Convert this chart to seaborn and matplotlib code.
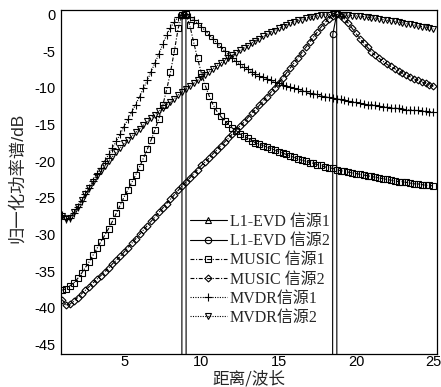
import numpy as np
import matplotlib
matplotlib.use("Agg")
import matplotlib.pyplot as plt
from matplotlib.font_manager import FontProperties
import seaborn as sns

# Range grid in wavelengths (0.25 step)
distance = np.linspace(1, 25, 97)

# Normalised spectra in dB, one value per grid point
music_src1 = [
    -37.6, -37.4, -37.0, -36.6, -36.0, -35.3, -34.5, -33.7,
    -32.8, -31.9, -31.0, -30.1, -29.2, -28.2, -27.1, -26.0,
    -24.9, -23.9, -22.9, -21.9, -20.8, -19.6, -18.4, -17.1,
    -15.7, -14.2, -12.4, -10.3, -7.9, -5.0, -1.9, -0.1,
    0.0, -1.5, -3.8, -6.0, -8.0, -9.7, -11.1, -12.3,
    -13.2, -13.9, -14.5, -15.0, -15.5, -15.9, -16.3, -16.6,
    -16.9, -17.2, -17.5, -17.7, -17.9, -18.1, -18.3, -18.5,
    -18.7, -18.9, -19.1, -19.3, -19.5, -19.7, -19.9, -20.0,
    -20.2, -20.3, -20.5, -20.6, -20.8, -20.9, -21.0, -21.2,
    -21.3, -21.4, -21.5, -21.6, -21.7, -21.8, -21.9, -22.0,
    -22.1, -22.2, -22.3, -22.4, -22.5, -22.6, -22.7, -22.8,
    -22.8, -22.9, -23.0, -23.1, -23.1, -23.2, -23.3, -23.3,
    -23.4,
]
music_src2 = [
    -38.9, -39.6, -39.5, -39.1, -38.6, -38.1, -37.6, -37.1,
    -36.6, -36.1, -35.6, -35.1, -34.6, -34.0, -33.5, -33.0,
    -32.4, -31.8, -31.2, -30.6, -30.0, -29.4, -28.8, -28.2,
    -27.6, -27.0, -26.4, -25.8, -25.2, -24.6, -24.0, -23.4,
    -22.8, -22.3, -21.7, -21.2, -20.6, -20.1, -19.6, -19.0,
    -18.5, -17.9, -17.4, -16.9, -16.3, -15.8, -15.2, -14.7,
    -14.1, -13.5, -13.0, -12.4, -11.8, -11.2, -10.6, -10.0,
    -9.3, -8.7, -8.0, -7.3, -6.6, -5.9, -5.2, -4.5,
    -3.8, -3.1, -2.4, -1.7, -1.1, -0.6, -0.2, 0.0,
    -0.2, -0.6, -1.2, -1.9, -2.6, -3.3, -3.9, -4.5,
    -5.1, -5.6, -6.0, -6.4, -6.8, -7.1, -7.4, -7.7,
    -8.0, -8.3, -8.5, -8.8, -9.0, -9.2, -9.4, -9.6,
    -9.8,
]
mvdr_src1 = [
    -27.4, -27.9, -27.7, -27.1, -26.3, -25.4, -24.5, -23.6,
    -22.7, -21.8, -20.9, -20.0, -19.1, -18.2, -17.3, -16.3,
    -15.3, -14.3, -13.3, -12.3, -11.2, -10.1, -9.0, -7.8,
    -6.6, -5.4, -4.1, -2.8, -1.8, -1.0, -0.4, -0.05,
    0.0, -0.3, -0.7, -1.2, -1.7, -2.2, -2.8, -3.3,
    -3.9, -4.4, -5.0, -5.5, -6.0, -6.4, -6.8, -7.2,
    -7.5, -7.8, -8.1, -8.4, -8.6, -8.8, -9.0, -9.2,
    -9.4, -9.6, -9.8, -9.9, -10.1, -10.2, -10.4, -10.5,
    -10.7, -10.8, -10.9, -11.1, -11.2, -11.3, -11.4, -11.5,
    -11.6, -11.7, -11.8, -11.9, -12.0, -12.1, -12.2, -12.3,
    -12.3, -12.4, -12.5, -12.6, -12.6, -12.7, -12.8, -12.8,
    -12.9, -13.0, -13.0, -13.1, -13.1, -13.2, -13.2, -13.3,
    -13.3,
]
mvdr_src2 = [
    -27.5, -27.9, -27.7, -27.0, -26.2, -25.3, -24.5, -23.7,
    -22.9, -22.1, -21.4, -20.7, -20.0, -19.4, -18.8, -18.2,
    -17.6, -17.1, -16.6, -16.1, -15.6, -15.1, -14.6, -14.1,
    -13.7, -13.2, -12.8, -12.3, -11.9, -11.5, -11.0, -10.6,
    -10.2, -9.8, -9.4, -9.0, -8.6, -8.2, -7.8, -7.4,
    -7.0, -6.6, -6.3, -5.9, -5.6, -5.2, -4.9, -4.6,
    -4.3, -3.9, -3.6, -3.3, -3.0, -2.7, -2.4, -2.2,
    -1.9, -1.7, -1.4, -1.2, -1.0, -0.8, -0.7, -0.5,
    -0.4, -0.3, -0.2, -0.1, -0.05, -0.02, 0.0, 0.0,
    -0.02, -0.05, -0.1, -0.15, -0.2, -0.25, -0.3, -0.4,
    -0.45, -0.5, -0.6, -0.7, -0.8, -0.85, -0.95, -1.05,
    -1.15, -1.25, -1.35, -1.45, -1.55, -1.65, -1.75, -1.85,
    -1.95,
]

# L1-EVD spectra: only the bins around each source; everything else sits far below the axis floor
l1_src1_x = [8.5, 8.75, 9.0, 9.25]
l1_src1_db = [-1000.0, 0.0, -0.1, -1000.0]
l1_src2_x = [18.25, 18.5, 18.75, 19.0]
l1_src2_db = [-1000.0, -2.7, 0.0, -1000.0]

labels = ["L1-EVD 信源1", "L1-EVD 信源2", "MUSIC 信源1", "MUSIC 信源2",
          "MVDR信源1", "MVDR信源2"]
x_ticks = [5, 10, 15, 20, 25]
y_ticks = [0, -5, -10, -15, -20, -25, -30, -35, -40, -45]

sns.set_theme(style="white")
plt.rcParams["font.family"] = ["Liberation Sans", "Noto Sans CJK SC", "DejaVu Sans"]
plt.rcParams["axes.unicode_minus"] = False

fig = plt.figure(figsize=(4.41, 3.87), dpi=100)
ax_w, ax_h = 436.7 - 61, 354 - 10
ax = fig.add_axes([61 / 441, 1 - 354 / 387, ax_w / 441, ax_h / 387])

dashdot = (0, (3.5, 1.5, 1.0, 1.5))
dotted = (0, (1.0, 1.2))

series = [
    (l1_src1_x, l1_src1_db, "^", 4.6, "-"),
    (l1_src2_x, l1_src2_db, "o", 4.6, "-"),
    (distance, music_src1, "s", 4.8, dashdot),
    (distance, music_src2, "D", 3.5, dashdot),
    (distance, mvdr_src1, "+", 5.2, dotted),
    (distance, mvdr_src2, "v", 4.4, dotted),
]

for (xs, ys, mk, ms, ls), lab in zip(series, labels):
    sns.lineplot(x=list(xs), y=list(ys), ax=ax, estimator=None, sort=False,
                 color="black", linewidth=0.8, linestyle=ls,
                 marker=mk, markersize=ms, markerfacecolor="none",
                 markeredgecolor="black", markeredgewidth=0.8, label=lab)

ax.set_xlim(0.92, 25.22)
ax.set_ylim(-46.3, 0.6)
ax.set_xticks(x_ticks)
ax.set_yticks(y_ticks)
ax.set_xticklabels([str(v) for v in x_ticks])
ax.set_yticklabels([str(v) for v in y_ticks])
ax.tick_params(axis="both", direction="in", length=4, width=0.8,
               labelsize=10.5, colors="black", pad=4,
               top=False, right=False)
ax.tick_params(axis="x", pad=1)
for sp in ax.spines.values():
    sp.set_visible(True)
    sp.set_color("black")
    sp.set_linewidth(0.9)

ax.set_xlabel("距离/波长", fontsize=12,
              family=["Noto Sans CJK SC", "DejaVu Sans"])
ax.xaxis.label.set_va("center")
ax.xaxis.set_label_coords(0.5, -(378.5 - 354) / ax_h)
ax.set_ylabel("归一化功率谱/dB", fontsize=12.5,
              family=["Liberation Sans", "Noto Sans CJK SC"])
ax.yaxis.label.set_va("center")
ax.yaxis.set_label_coords(-(61 - 17) / ax_w, (354 - 178) / ax_h)

leg = ax.legend(loc="upper left",
                bbox_to_anchor=((190 - 61) / ax_w, (354 - 214) / ax_h),
                frameon=False, borderpad=0, borderaxespad=0,
                handlelength=2.3, handletextpad=0.2, labelspacing=0.2,
                prop=FontProperties(family=["Liberation Serif", "Noto Sans CJK SC"],
                                    size=11.5))

fig.savefig("out.png", dpi=100)
